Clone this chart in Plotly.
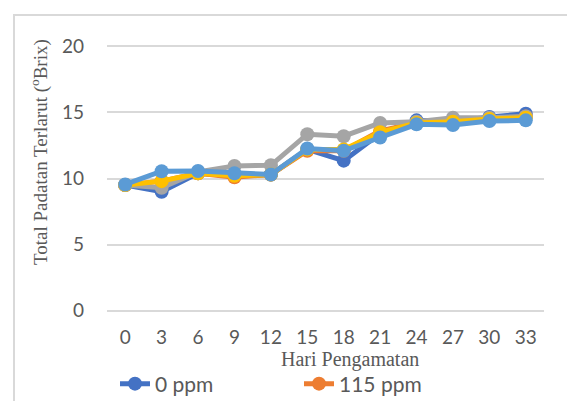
import plotly.graph_objects as go

days = ["0", "3", "6", "9", "12", "15", "18", "21", "24", "27", "30", "33"]

ppm_0 = [9.5, 9.0, 10.4, 10.2, 10.3, 12.2, 11.35, 13.4, 14.4, 14.3, 14.65, 14.9]
ppm_115 = [9.5, 9.8, 10.4, 10.1, 10.3, 12.1, 12.1, 13.6, 14.2, 14.3, 14.5, 14.7]
ppm_230 = [9.5, 9.3, 10.5, 10.95, 11.0, 13.35, 13.2, 14.2, 14.3, 14.6, 14.6, 14.7]
ppm_345 = [9.5, 9.8, 10.4, 10.2, 10.3, 12.2, 12.2, 13.5, 14.2, 14.3, 14.5, 14.6]
ppm_460 = [9.55, 10.55, 10.57, 10.4, 10.3, 12.27, 12.1, 13.1, 14.1, 14.05, 14.35, 14.4]

series_names = ["0 ppm", "115 ppm", "230 ppm", "345 ppm", "460 ppm"]
series_values = [ppm_0, ppm_115, ppm_230, ppm_345, ppm_460]
colors = ["#4472C4", "#ED7D31", "#A5A5A5", "#FFC000", "#5B9BD5"]
in_legend = [True, True, False, False, False]

W, H = 567, 401
L, R, T, B = 107, 23, 45, 89
pw, ph = W - L - R, H - T - B

fig = go.Figure()
for name, vals, col, leg in zip(series_names, series_values, colors, in_legend):
    fig.add_trace(go.Scatter(
        x=days, y=vals, name=name, mode="lines+markers",
        line=dict(color=col, width=5),
        marker=dict(color=col, size=14),
        showlegend=leg,
    ))

def px_x(p):
    return (p - L) / pw

def px_y(p):
    return (H - B - p) / ph

fig.update_layout(
    width=W, height=H,
    margin=dict(l=L, r=R, t=T, b=B, autoexpand=False),
    paper_bgcolor="white", plot_bgcolor="white",
    font=dict(family="Lato, sans-serif", color="#595959", size=19),
    xaxis=dict(type="category", range=[-0.5, 11.5], showgrid=False,
               zeroline=False, showline=False, ticks="",
               tickfont=dict(size=19, color="#595959"),
               ticklabelstandoff=12),
    yaxis=dict(range=[-0.1, 20.1], dtick=5, showgrid=True, gridcolor="#D9D9D9",
               gridwidth=1.5, zeroline=True, zerolinecolor="#D9D9D9",
               zerolinewidth=1.5, showline=False, ticks="",
               tickfont=dict(size=19, color="#595959"),
               ticklabelstandoff=22),
    legend=dict(orientation="h", x=px_x(115), y=px_y(384), yanchor="middle",
                xanchor="left", font=dict(size=21, color="#595959"),
                entrywidth=139, entrywidthmode="pixels",
                bgcolor="rgba(0,0,0,0)"),
    shapes=[dict(type="rect", xref="paper", yref="paper",
                 x0=px_x(14), x1=px_x(700), y0=px_y(15), y1=px_y(500),
                 line=dict(color="#D9D9D9", width=2), layer="below")],
    annotations=[
        dict(text="Hari Pengamatan", xref="paper", yref="paper",
             x=px_x(350), y=px_y(359), showarrow=False,
             xanchor="center", yanchor="middle",
             font=dict(family="Liberation Serif, Times New Roman, serif",
                       size=20, color="#595959")),
        dict(text="Total Padatan Terlarut (<sup>o</sup>Brix)", xref="paper",
             yref="paper", x=px_x(39), y=px_y(152), showarrow=False,
             textangle=-90, xanchor="center", yanchor="middle",
             font=dict(family="Liberation Serif, Times New Roman, serif",
                       size=19, color="#595959")),
    ],
)

fig.write_html("out.html", config={"displayModeBar": False},
               post_script="document.body.style.margin='0';document.body.style.overflow='hidden';")
